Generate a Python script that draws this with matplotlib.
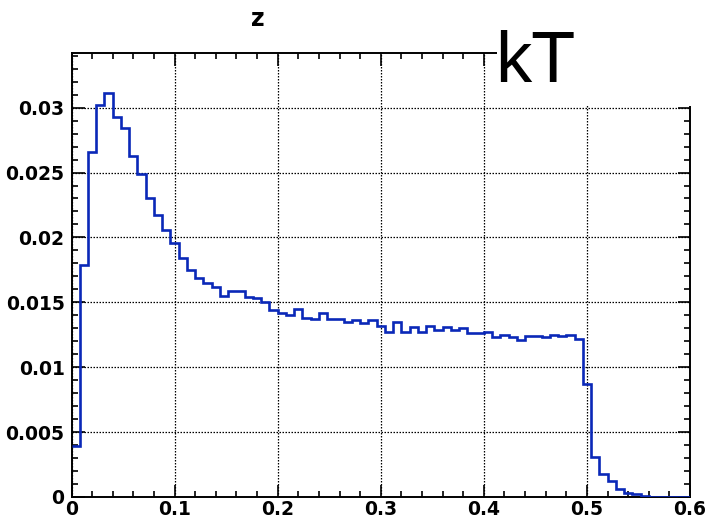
import numpy as np
import matplotlib
matplotlib.use("Agg")
import matplotlib.pyplot as plt
from matplotlib.patches import Rectangle
from matplotlib.ticker import MultipleLocator

# Histogram of z: 75 bins between 0 and 0.6
x_min, x_max, n_bins = 0.0, 0.6, 75
bin_edges = np.linspace(x_min, x_max, n_bins + 1)
z_counts = [
    0.0039, 0.0179, 0.0266, 0.0302, 0.0311, 0.0293, 0.0284, 0.0263, 0.0249, 0.0230,
    0.0217, 0.0206, 0.0196, 0.0184, 0.0175, 0.0169, 0.0165, 0.0162, 0.0155, 0.0159,
    0.0159, 0.0154, 0.0153, 0.0150, 0.0144, 0.0142, 0.0140, 0.0145, 0.0138, 0.0137,
    0.0142, 0.0137, 0.0137, 0.0135, 0.0136, 0.0134, 0.0136, 0.0132, 0.0127, 0.0135,
    0.0127, 0.0131, 0.0127, 0.0132, 0.0129, 0.0131, 0.0129, 0.0130, 0.0126, 0.0126,
    0.0127, 0.0123, 0.0125, 0.0123, 0.0121, 0.0124, 0.0124, 0.0123, 0.0125, 0.0124,
    0.0125, 0.0122, 0.0087, 0.0031, 0.0018, 0.0012, 0.0006, 0.0003, 0.0002, 0.00004,
    0.00001, 0.00001, 0.0, 0.0, 0.0,
]
x_ticks = [0.0, 0.1, 0.2, 0.3, 0.4, 0.5, 0.6]
x_tick_labels = ["0", "0.1", "0.2", "0.3", "0.4", "0.5", "0.6"]
y_ticks = [0.0, 0.005, 0.01, 0.015, 0.02, 0.025, 0.03]
y_tick_labels = ["0", "0.005", "0.01", "0.015", "0.02", "0.025", "0.03"]
y_top = 1.1 * max(z_counts)

fig = plt.figure(figsize=(7.06, 5.20), dpi=100)
ax = fig.add_axes([71.5 / 706, 1 - 497 / 520, (690 - 71.5) / 706, (497 - 53) / 520])

ax.stairs(z_counts, bin_edges, baseline=None, color="#0a28b8", lw=1.9, zorder=3)

ax.set_xlim(x_min, x_max)
ax.set_ylim(0, y_top)
ax.set_xticks(x_ticks)
ax.set_xticklabels(x_tick_labels)
ax.set_yticks(y_ticks)
ax.set_yticklabels(y_tick_labels)
ax.xaxis.set_minor_locator(MultipleLocator(0.02))
ax.yaxis.set_minor_locator(MultipleLocator(0.001))

ax.tick_params(which="both", direction="in", top=True, right=True, color="black", width=1.2)
ax.tick_params(which="major", length=9)
ax.tick_params(which="minor", length=4.5)
ax.tick_params(axis="x", which="major", pad=2)
ax.tick_params(axis="y", which="major", pad=5)
for lab in ax.get_xticklabels() + ax.get_yticklabels():
    lab.set_fontfamily("DejaVu Sans")
    lab.set_fontweight("bold")
    lab.set_fontsize(13.5)

ax.grid(True, which="major", color="black", linestyle=(0, (1.2, 1.2)), lw=0.9)
ax.set_axisbelow(True)
for sp in ax.spines.values():
    sp.set_linewidth(1.4)
    sp.set_color("black")

fig.text(258 / 706, 1 - 19 / 520, "z", ha="center", va="center",
         fontsize=17, fontweight="bold", family="DejaVu Sans")

# Label box in the upper right corner
fig.add_artist(Rectangle((497 / 706, 1 - 106 / 520), 1 - 497 / 706, 106 / 520,
                         transform=fig.transFigure, facecolor="white",
                         edgecolor="none", zorder=5))
fig.text(495 / 706, 1 - 82 / 520, "kT", ha="left", va="baseline",
         fontsize=52, family="Liberation Sans", color="black", zorder=6)

fig.savefig("out.png", dpi=100)
